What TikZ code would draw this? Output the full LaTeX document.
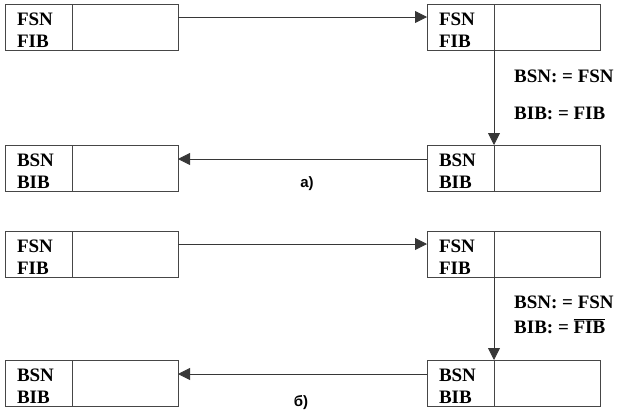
\documentclass[tikz,border=0pt]{standalone}
\usepackage{fontspec}
\setmainfont{Liberation Serif}
\newfontfamily\casefont{Liberation Sans}
\usetikzlibrary{arrows.meta,positioning}
\definecolor{framegray}{RGB}{70,70,70}
\definecolor{linegray}{RGB}{55,55,55}

\tikzset{
  namecell/.style={draw=framegray,line width=0.9pt,outer sep=0pt,
    minimum width=67pt,minimum height=46pt,text width=43pt,
    inner xsep=12pt,inner ysep=0pt,align=left,text depth=15pt,
    font=\fontsize{19}{21.5}\selectfont\bfseries},
  emptycell/.style={draw=framegray,line width=0.9pt,outer sep=0pt,
    minimum width=106pt,minimum height=46pt,inner sep=0pt},
  flow/.style={-{Triangle[length=12pt,width=12pt]},linegray,line width=0.8pt},
  rulenote/.style={font=\fontsize{19}{21}\selectfont\bfseries,
    inner sep=0pt,anchor=base west},
  caselabel/.style={font=\casefont\fontsize{15}{17}\selectfont\bfseries,inner sep=0pt}
}

\begin{document}
\begin{tikzpicture}[x=1pt,y=-1pt]
\useasboundingbox (0,0) rectangle (620,416);

%% ── case a) : boxes ─────────────────────────────────────────────────────────
\node[namecell,anchor=north west] (aTL) at (5,4) {FSN\\FIB};
\node[emptycell,right=0pt of aTL] (aTLr) {};
\node[namecell,anchor=north west] (aTR) at (427,4) {FSN\\FIB};
\node[emptycell,right=0pt of aTR] (aTRr) {};
\node[namecell,anchor=north west] (aBR) at (427,145) {BSN\\BIB};
\node[emptycell,right=0pt of aBR] (aBRr) {};
\node[namecell,anchor=north west] (aBL) at (5,145) {BSN\\BIB};
\node[emptycell,right=0pt of aBL] (aBLr) {};

%% ── case a) : connectors ────────────────────────────────────────────────────
\draw[flow] ([yshift=-13pt]aTLr.north east) -- ([yshift=-13pt]aTR.north west);
\draw[flow] (aTRr.south west) -- (aBRr.north west);
\draw[flow] ([yshift=-14pt]aBR.north west) -- ([yshift=-14pt]aBLr.north east);

% assignments beside the vertical arrow
\node[rulenote] (aBsn) at (514,82) {BSN: = FSN};
\node[rulenote] (aBib) at (514,119) {BIB: = FIB};
\node[caselabel] (aCase) at (307,184) {a)};

%% ── case б) : boxes ─────────────────────────────────────────────────────────
\node[namecell,anchor=north west] (bTL) at (5,231) {FSN\\FIB};
\node[emptycell,right=0pt of bTL] (bTLr) {};
\node[namecell,anchor=north west] (bTR) at (427,231) {FSN\\FIB};
\node[emptycell,right=0pt of bTR] (bTRr) {};
\node[namecell,anchor=north west] (bBR) at (427,360) {BSN\\BIB};
\node[emptycell,right=0pt of bBR] (bBRr) {};
\node[namecell,anchor=north west] (bBL) at (5,360) {BSN\\BIB};
\node[emptycell,right=0pt of bBL] (bBLr) {};

%% ── case б) : connectors ────────────────────────────────────────────────────
\draw[flow] ([yshift=-13pt]bTLr.north east) -- ([yshift=-13pt]bTR.north west);
\draw[flow] (bTRr.south west) -- (bBRr.north west);
\draw[flow] ([yshift=-14pt]bBR.north west) -- ([yshift=-14pt]bBLr.north east);

% assignments, FIB inverted
\node[rulenote] (bBsn) at (514,308) {BSN: = FSN};
\node[rulenote] (bBib) at (514,333) {BIB: = $\overline{\mbox{FIB}}$};
\node[caselabel] (bCase) at (301,403) {б)};

\end{tikzpicture}
\end{document}
